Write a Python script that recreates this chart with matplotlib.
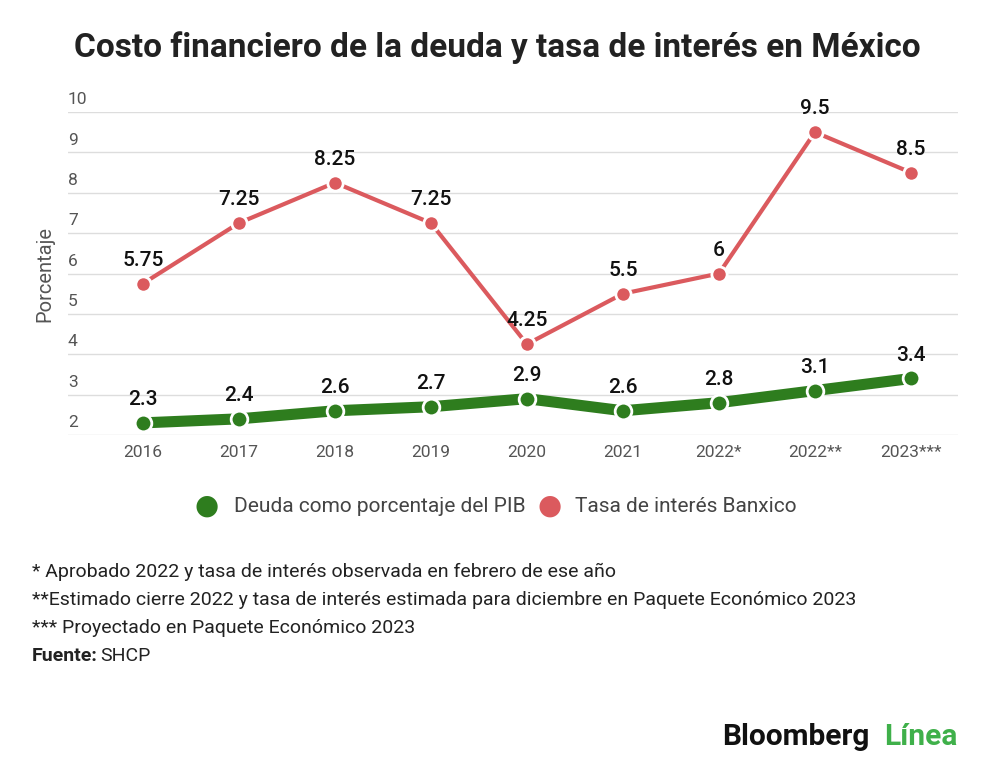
import matplotlib.pyplot as plt

years = ['2016', '2017', '2018', '2019', '2020', '2021', '2022*', '2022**', '2023***']
deuda = [2.3, 2.4, 2.6, 2.7, 2.9, 2.6, 2.8, 3.1, 3.4]
tasa = [5.75, 7.25, 8.25, 7.25, 4.25, 5.5, 6, 9.5, 8.5]
tasa_labels = ['5.75', '7.25', '8.25', '7.25', '4.25', '5.5', '6', '9.5', '8.5']
y_ticks = [2, 3, 4, 5, 6, 7, 8, 9, 10]

notas = [
    '* Aprobado 2022 y tasa de interés observada en febrero de ese año',
    '**Estimado cierre 2022 y tasa de interés estimada para diciembre en Paquete Económico 2023',
    '*** Proyectado en Paquete Económico 2023',
]

GREEN = '#2e7d1e'
RED = '#db5a5e'

plt.rcParams['font.family'] = ['Roboto', 'DejaVu Sans']

fig = plt.figure(figsize=(10, 7.75), dpi=100)
ax = fig.add_axes([0.068, 1 - 435 / 775, 0.89, (435 - 112) / 775])

x = list(range(len(years)))
ax.plot(x, tasa, color=RED, lw=3, marker='o', ms=11, mfc=RED, mec='white', mew=2,
        zorder=3, clip_on=False)
ax.plot(x, deuda, color=GREEN, lw=8, marker='o', ms=12, mfc=GREEN, mec='white', mew=2,
        zorder=3, clip_on=False)

for xi, v, lab in zip(x, tasa, tasa_labels):
    ax.annotate(lab, (xi, v), xytext=(0, 10), textcoords='offset points',
                ha='center', va='bottom', fontsize=15, color='#111111', fontweight='medium')
for xi, v in zip(x, deuda):
    ax.annotate(f'{v}', (xi, v), xytext=(0, 10), textcoords='offset points',
                ha='center', va='bottom', fontsize=15, color='#111111', fontweight='medium')

ax.set_xlim(-0.78, 8.49)
ax.set_ylim(2, 10)
ax.set_yticks(y_ticks)
ax.set_yticklabels([])
ax.tick_params(axis='y', length=0)
ax.grid(axis='y', color='#dddddd', lw=1)
ax.set_axisbelow(True)
for t in y_ticks:
    ax.text(-0.78, t + 0.12, str(t), ha='left', va='bottom', fontsize=12.5, color='#555555')

ax.set_xticks(x)
ax.set_xticklabels(years, fontsize=12.5, color='#555555')
ax.tick_params(axis='x', length=0, pad=7)
for s in ax.spines.values():
    s.set_visible(False)

ax.set_ylabel('Porcentaje', fontsize=14.5, color='#555555')
ax.yaxis.set_label_coords(-0.015, 0.5)

fig.text(0.497, 1 - 48 / 775, 'Costo financiero de la deuda y tasa de interés en México',
         ha='center', va='center', fontsize=24, fontweight='bold', color='#222222')

# legend
ly = 1 - 506 / 775
fig.text(0.207, ly, '●', ha='center', va='center', fontsize=20, color=GREEN)
fig.text(0.234, ly, 'Deuda como porcentaje del PIB', ha='left', va='center', fontsize=15, color='#444444')
fig.text(0.550, ly, '●', ha='center', va='center', fontsize=20, color=RED)
fig.text(0.575, ly, 'Tasa de interés Banxico', ha='left', va='center', fontsize=15, color='#444444')

for i, n in enumerate(notas):
    fig.text(0.032, 1 - (572 + 28 * i) / 775, n, ha='left', va='center', fontsize=14, color='#222222')
fig.text(0.032, 1 - 656 / 775, 'Fuente:', ha='left', va='center', fontsize=14,
         fontweight='bold', color='#222222')
fig.text(0.1, 1 - 656 / 775, 'SHCP', ha='left', va='center', fontsize=14, color='#222222')

# logo
fig.text(0.722, 1 - 737 / 775, 'Bloomberg', ha='left', va='center', fontsize=21.5,
         fontweight='bold', color='#111111')
fig.text(0.958, 1 - 737 / 775, 'Línea', ha='right', va='center', fontsize=21.5,
         fontweight='bold', color='#3fb04a')

fig.savefig('out.png', dpi=100, facecolor='white')
